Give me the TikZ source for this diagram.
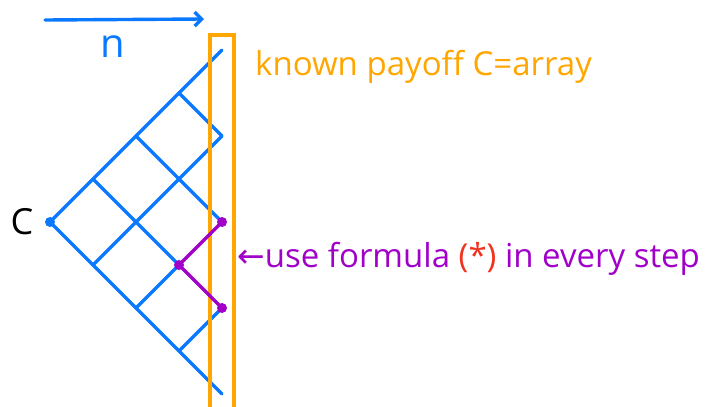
\documentclass[tikz,border=0pt]{standalone}
\usepackage{fontspec}
\setmainfont{Open Sans}
\newfontfamily\arrowfont{DejaVu Sans}
\usetikzlibrary{arrows.meta}
\definecolor{latblue}{RGB}{10,120,255}
\definecolor{payorange}{RGB}{255,166,0}
\definecolor{stepviolet}{RGB}{160,0,200}
\definecolor{starred}{RGB}{240,50,30}

\begin{document}
\begin{tikzpicture}[x=1pt,y=-1pt,
    edge/.style={latblue,line width=3.4pt,line cap=round},
    hot/.style={stepviolet,line width=3.4pt,line cap=round},
    dot/.style={circle,fill=#1,inner sep=0pt,minimum size=10pt},
    hand/.style={font=\fontsize{33}{40}\selectfont,inner sep=0pt}]
  \useasboundingbox (0,0) rectangle (710,407);
  % lattice points, level k, state j
  \foreach \k in {0,...,4} {
    \foreach \j in {0,...,\k} {
      \coordinate (v\k\j) at ({50+43*\k}, {222+43*(2*\j-\k)});
    }
  }
  \foreach \k in {0,...,3} {
    \foreach \j in {0,...,\k} {
      \pgfmathtruncatemacro{\kn}{\k+1}
      \pgfmathtruncatemacro{\jn}{\j+1}
      \ifnum\k\j=32\relax\else
        \draw[edge] (v\k\j) -- (v\kn\j);
        \draw[edge] (v\k\j) -- (v\kn\jn);
      \fi
    }
  }
  % terminal column
  \draw[payorange,line width=3.6pt] (210,407) -- (210,35) -- (234,35) -- (234,407);
  \draw[hot] (v42) -- (v32) -- (v43);
  \node[dot=latblue] (root) at (v00) {};
  \node[dot=stepviolet] (up) at (v42) {};
  \node[dot=stepviolet] (mid) at (v32) {};
  \node[dot=stepviolet] (down) at (v43) {};
  % time axis
  \coordinate (nstart) at (45,20);
  \coordinate (nend) at (204,19);
  \draw[edge,-{Straight Barb[length=7pt,width=14pt]}] (nstart) -- (nend);
  \node[hand,text=latblue,font=\fontsize{40}{48}\selectfont] (n) at (113,47) {n};
  \node[hand,font=\fontsize{36}{44}\selectfont] (c) at (22,222) {C};
  \node[hand,text=payorange,anchor=base west] (known) at (255,75) {known payoff C=array};
  \node[hand,text=stepviolet,anchor=base west] (use) at (237,267) {{\arrowfont ←}use formula \textcolor{starred}{(*)} in every step};
\end{tikzpicture}
\end{document}
